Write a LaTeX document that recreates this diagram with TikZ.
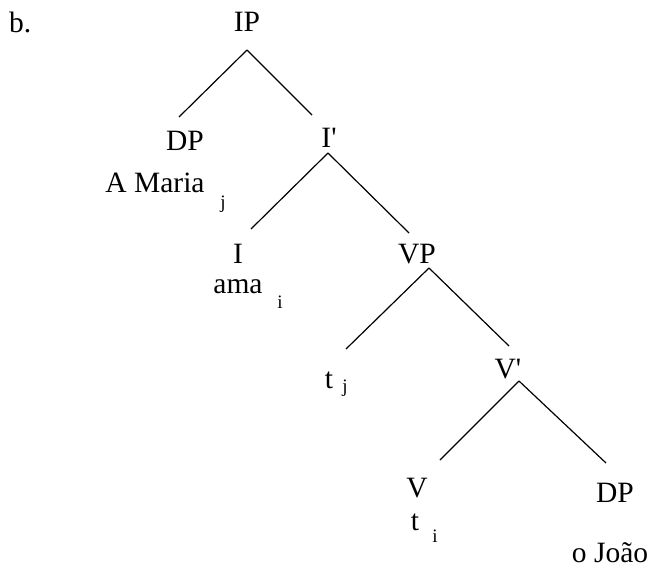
\documentclass[tikz,border=0pt]{standalone}
\usepackage{fontspec}
\setmainfont{Liberation Serif}[Ligatures=TeXOff]
\begin{document}
\begin{tikzpicture}[x=1pt,y=-1pt,
  lbl/.style={inner sep=0pt,anchor=base,font=\fontsize{29.5}{32}\selectfont},
  sub/.style={inner sep=0pt,anchor=base,font=\fontsize{19}{22}\selectfont},
  branch/.style={line width=1.2pt,black}]
\useasboundingbox[fill=white] (0,0) rectangle (656,568);
\node[lbl,anchor=base west] (b) at (9,32) {b.};
\node[lbl] (IP) at (247,31) {IP};
\node[lbl] (DP1) at (185,150) {DP};
\node[lbl] (Ibar) at (329,147) {I'};
\node[lbl] (Maria) at (155,192) {A Maria};
\node[sub] (j1) at (223,208) {j};
\node[lbl] (I) at (238,263) {I};
\node[lbl] (ama) at (238,293) {ama};
\node[sub] (i1) at (280,308) {i};
\node[lbl] (VP) at (417,263) {VP};
\node[lbl] (t1) at (329,388) {t};
\node[sub] (j2) at (345,392) {j};
\node[lbl] (Vbar) at (508,378) {V'};
\node[lbl] (V) at (417,497) {V};
\node[lbl] (t2) at (415,530) {t};
\node[sub] (i2) at (435,542) {i};
\node[lbl] (DP2) at (615,502) {DP};
\node[lbl] (Joao) at (610,562) {o João};
\draw[branch] ([shift={(0,19)}]IP.base) -- ([shift={(-6,-33)}]DP1.base);
\draw[branch] ([shift={(0,19)}]IP.base) -- ([shift={(-17,-32)}]Ibar.base);
\draw[branch] ([shift={(-1,6)}]Ibar.base) -- ([shift={(13,-34)}]I.base);
\draw[branch] ([shift={(-1,6)}]Ibar.base) -- ([shift={(-8,-30)}]VP.base);
\draw[branch] ([shift={(12,5)}]VP.base) -- ([shift={(17,-39)}]t1.base);
\draw[branch] ([shift={(12,5)}]VP.base) -- ([shift={(1,-32)}]Vbar.base);
\draw[branch] ([shift={(11,3)}]Vbar.base) -- ([shift={(23,-37)}]V.base);
\draw[branch] ([shift={(11,3)}]Vbar.base) -- ([shift={(-9,-39)}]DP2.base);
\end{tikzpicture}
\end{document}
